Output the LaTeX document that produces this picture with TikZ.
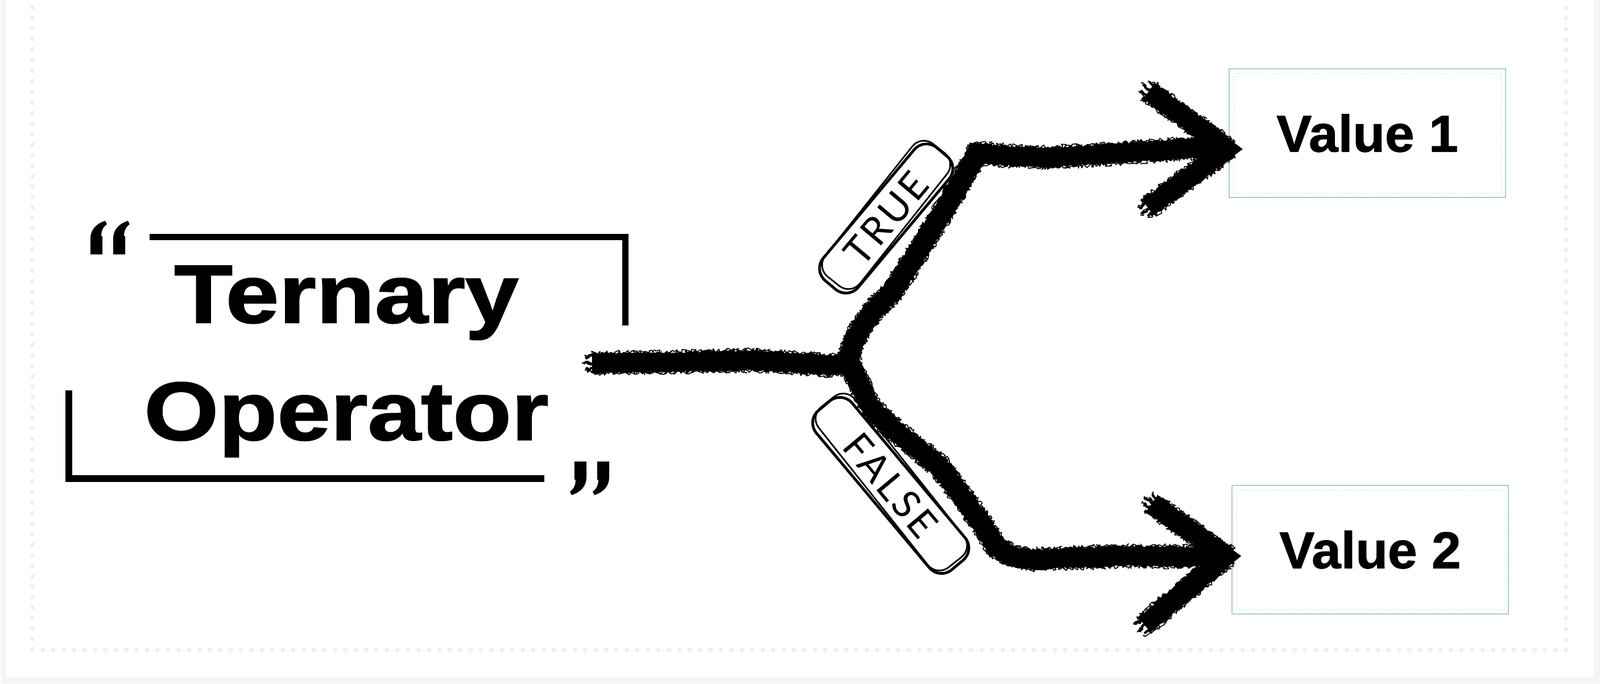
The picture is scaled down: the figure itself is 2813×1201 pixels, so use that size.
\documentclass[tikz,border=0pt]{standalone}
\usepackage{fontspec}
\usetikzlibrary{decorations.pathmorphing}
\newfontfamily\titlefont{Liberation Sans}[FakeStretch=1.16,FakeBold=1.5]
\newfontfamily\valfont{Liberation Sans}[FakeStretch=1.02,FakeBold=1.2]
\newfontfamily\pillfont{Lato}[LetterSpace=8]
\definecolor{framebg}{RGB}{242,246,245}
\definecolor{dotc}{RGB}{236,242,241}
\definecolor{boxline}{RGB}{170,206,201}
\definecolor{boxdot}{RGB}{150,198,192}
\newcommand\qmarkpath{(0,59) -- (21,59) -- (21,27) -- (19,27) .. controls (19,18) and (22,11) .. (29,6) -- (26,0) .. controls (10,5) and (0,16) .. (0,31) -- cycle}
\newcommand\brushdraw[1]{%
  \draw[brushcore] #1;
  \foreach \dx/\dy in {0/15,0/-15,15/0,-15/0,11/11,-11/11,11/-11,-11/-11}{%
    \draw[brushfuzz, transform canvas={shift={(\dx,\dy)}}] #1;}
  \foreach \dx/\dy in {0/18,0/-18,18/0,-18/0,13/13,-13/13,13/-13,-13/-13}{%
    \draw[brushhair, transform canvas={shift={(\dx,\dy)}}] #1;}
}
\begin{document}
\begin{tikzpicture}[x=0.5pt,y=-0.5pt,
  titletext/.style={inner sep=0pt, font=\titlefont\bfseries\fontsize{72.6pt}{80pt}\selectfont},
  valbox/.style={draw=boxline, line width=1pt, fill=white, minimum width=243pt, minimum height=113pt, inner sep=0pt,
     font=\valfont\bfseries\fontsize{45.4pt}{50pt}\selectfont},
  innerdot/.style={draw=boxdot, line width=0.5pt, dotted},
  brushcore/.style={line width=16pt, line join=miter, black},
  brushfuzz/.style={line width=2pt, line join=round, black, decorate, decoration={random steps, segment length=1.5pt, amplitude=1.5pt}},
  brushhair/.style={line width=0.8pt, line join=round, black, decorate, decoration={random steps, segment length=1pt, amplitude=2pt}},
  pill/.style={draw, fill=white, line width=2.4pt, rounded corners=14pt, inner sep=0pt, font=\pillfont\fontsize{34pt}{36pt}\selectfont},
  pillsketch/.style={draw, line width=1.4pt, rounded corners=13pt}
]
\useasboundingbox (0,0) rectangle (2813,1201);
\fill[white] (0,0) rectangle (2813,1201);
% frame
\fill[framebg] (2,0) rectangle (11,1201);
\fill[framebg] (2802,0) rectangle (2813,1201);
\fill[framebg] (2,1190) rectangle (2813,1201);
% dotted border
\foreach \i in {0,...,61} {\fill[dotc] (57,{1142-\i*18.5}) circle[radius=4];
                           \fill[dotc] (2753,{1142-\i*18.5}) circle[radius=4];}
\foreach \i in {1,...,146} {\fill[dotc] ({57+\i*18.34},1142) circle[radius=4];}
% brackets
\draw[line width=5.5pt] (263,416.5) -- (1099.5,416.5) -- (1099.5,572);
\draw[line width=6pt] (121,686) -- (121,841) -- (957,841);
% quotes
\begin{scope}[shift={(159,388)}]
  \fill \qmarkpath;
  \begin{scope}[shift={(40,0)}] \fill \qmarkpath; \end{scope}
\end{scope}
\begin{scope}[shift={(1071,870)}, rotate=180]
  \fill \qmarkpath;
  \begin{scope}[shift={(40,0)}] \fill \qmarkpath; \end{scope}
\end{scope}
% title
\node[titletext, anchor=base] (t1) at (609,567) {Ternary};
\node[titletext, anchor=base] (t2) at (609,773) {Operator};
% value boxes
\node[valbox] (v1) at (2404,234) {Value 1};
\draw[innerdot] ([shift={(4.5pt,-4.5pt)}]v1.north west) rectangle ([shift={(-4.5pt,4.5pt)}]v1.south east);
\node[valbox] (v2) at (2409,966) {Value 2};
\draw[innerdot] ([shift={(4.5pt,-4.5pt)}]v2.north west) rectangle ([shift={(-4.5pt,4.5pt)}]v2.south east);
% connector
\coordinate (src) at (1041,638);
\coordinate (junc) at (1493,638);
\coordinate (tip1) at ([shift={(-1pt,-14pt)}]v1.west);
\coordinate (tip2) at ([shift={(-4.5pt,-6pt)}]v2.west);
\brushdraw{(src) -- (1100,637) -- (1207,636) -- (1321,633) -- (1420,639) -- (1460,643) -- (junc)}
\brushdraw{(junc) -- (1495,615) -- (1510,582) -- (1537,545) -- (1568,513) -- (1600,465) -- (1628,420) -- (1665,360) -- (1690,318) -- (1712,280) -- (1716,268) -- (1760,273) -- (1837,277) -- (1975,269) -- (2094,260) -- (tip1)}
\brushdraw{(junc) -- (1510,673) -- (1532,718) -- (1575,758) -- (1615,790) -- (1650,818) -- (1690,870) -- (1726,920) -- (1752,962) -- (1780,978) -- (1817,983) -- (1975,977) -- (2094,978) -- (tip2)}
\brushdraw{(2020,160) -- (tip1) -- (2018,365)}
\brushdraw{(2025,885) -- (tip2) -- (2012,1098)}
% pills
\node[pill, minimum width=152.5pt, minimum height=40pt, rotate=50] (tru) at (1558,384) {TRUE};
\begin{scope}[shift={(tru.center)}, rotate=51.5]
  \draw[pillsketch] (-72pt,-17.5pt) rectangle (77pt,21.5pt);
\end{scope}
\node[pill, minimum width=182.5pt, minimum height=41pt, rotate=-50] (fls) at (1566,853) {FALSE};
\begin{scope}[shift={(fls.center)}, rotate=-51.5]
  \draw[pillsketch] (-92pt,-18pt) rectangle (88pt,22.5pt);
\end{scope}
\end{tikzpicture}
\end{document}
